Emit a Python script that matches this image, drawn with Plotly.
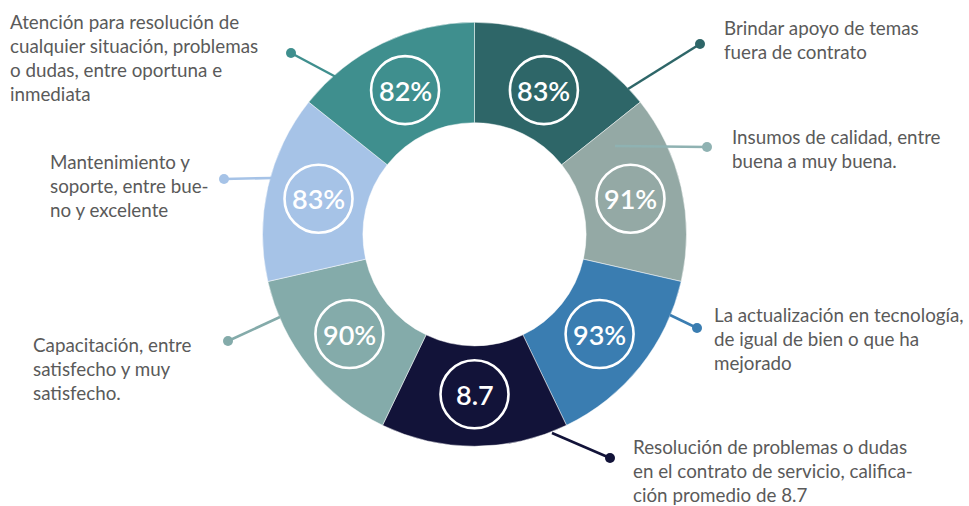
import math
import plotly.graph_objects as go

# ---- data -------------------------------------------------------------
categories = [
    ["Brindar apoyo de temas", "fuera de contrato"],
    ["Insumos de calidad, entre", "buena a muy buena."],
    ["La actualización en tecnología,", "de igual de bien o que ha", "mejorado"],
    ["Resolución de problemas o dudas", "en el contrato de servicio, califica-", "ción promedio de 8.7"],
    ["Capacitación, entre", "satisfecho y muy", "satisfecho."],
    ["Mantenimiento y", "soporte, entre bue-", "no y excelente"],
    ["Atención para resolución de", "cualquier situación, problemas", "o dudas, entre oportuna e", "inmediata"],
]
score_labels = ["83%", "91%", "93%", "8.7", "90%", "83%", "82%"]
slice_weights = [1, 1, 1, 1, 1, 1, 1]  # every topic gets an equal segment

# ---- styling ----------------------------------------------------------
slice_colors = ["#2E6668", "#94A9A5", "#3A7DB1", "#121339", "#84ABAA", "#A6C3E7", "#3F8F8E"]
leader_colors = ["#2E6668", "#8FB2B2", "#3A7DB1", "#121339", "#84ABAA", "#A6C3E7", "#3F8F8E"]

W, H = 969, 506
CX, CY = 474.5, 234.3       # donut centre (px)
R_OUT, R_IN = 212.0, 111.6  # outer / inner radius (px)
R_BADGE = 160.0             # radius at which the score badges sit
BADGE_R = 34.0
LINE_GAP = 24.0             # distance between label lines (px)

# callout layout: leader start, dot position, first text line (x, y centre), all in px
callouts = [
    dict(start=(628, 89), dot=(700, 44), text=(722, 27)),
    dict(start=(615, 146), dot=(707, 147), text=(730, 136)),
    dict(start=(670, 315), dot=(697, 328), text=(712, 314)),
    dict(start=(552, 433), dot=(610, 458), text=(631, 446)),
    dict(start=(280, 317), dot=(228, 341), text=(31, 344)),
    dict(start=(272, 178), dot=(224, 179), text=(48, 161)),
    dict(start=(336, 77), dot=(291, 53), text=(8, 21)),
]

FONT = "Lato"
TEXT_COLOR = "#5A5A5A"

fig = go.Figure()

# donut
fig.add_trace(go.Pie(
    values=slice_weights,
    labels=[f"s{i}" for i in range(len(slice_weights))],
    sort=False,
    direction="clockwise",
    rotation=0,
    hole=R_IN / R_OUT,
    marker=dict(colors=slice_colors, line=dict(color="rgba(255,255,255,0.6)", width=0.8)),
    textinfo="none",
    hoverinfo="skip",
    showlegend=False,
    domain=dict(x=[(CX - R_OUT) / W, (CX + R_OUT) / W],
                y=[(H - CY - R_OUT) / H, (H - CY + R_OUT) / H]),
))

# leader dots
fig.add_trace(go.Scatter(
    x=[c["dot"][0] for c in callouts],
    y=[c["dot"][1] for c in callouts],
    mode="markers",
    marker=dict(size=10, color=leader_colors),
    hoverinfo="skip",
    showlegend=False,
))

shapes = []
annotations = []
n = len(slice_weights)
total = sum(slice_weights)
acc = 0.0
for i in range(n):
    # mid-angle of the segment, measured clockwise from 12 o'clock
    mid = (acc + slice_weights[i] / 2) / total * 2 * math.pi
    acc += slice_weights[i]
    bx = CX + R_BADGE * math.sin(mid)
    by = CY - R_BADGE * math.cos(mid)
    shapes.append(dict(type="circle", xref="x", yref="y", layer="above",
                       x0=bx - BADGE_R, x1=bx + BADGE_R, y0=by - BADGE_R, y1=by + BADGE_R,
                       line=dict(color="white", width=2.6), fillcolor="rgba(0,0,0,0)"))
    annotations.append(dict(x=bx, y=by, xref="x", yref="y", text=score_labels[i],
                            showarrow=False, xanchor="center", yanchor="middle",
                            font=dict(family=FONT, size=27, color="white", weight=600)))

    c = callouts[i]
    shapes.append(dict(type="line", xref="x", yref="y", layer="above",
                       x0=c["start"][0], y0=c["start"][1], x1=c["dot"][0], y1=c["dot"][1],
                       line=dict(color=leader_colors[i], width=2.5)))
    for k, line in enumerate(categories[i]):
        annotations.append(dict(x=c["text"][0], y=c["text"][1] + k * LINE_GAP,
                                xref="x", yref="y", text=line, showarrow=False,
                                xanchor="left", yanchor="middle",
                                font=dict(family=FONT, size=18.8, color=TEXT_COLOR)))

fig.update_layout(
    width=W, height=H,
    margin=dict(l=0, r=0, t=0, b=0),
    paper_bgcolor="white", plot_bgcolor="rgba(0,0,0,0)",
    xaxis=dict(range=[0, W], visible=False, fixedrange=True, domain=[0, 1]),
    yaxis=dict(range=[H, 0], visible=False, fixedrange=True, domain=[0, 1]),
    shapes=shapes,
    annotations=annotations,
    showlegend=False,
)

fig.write_html("out.html")
